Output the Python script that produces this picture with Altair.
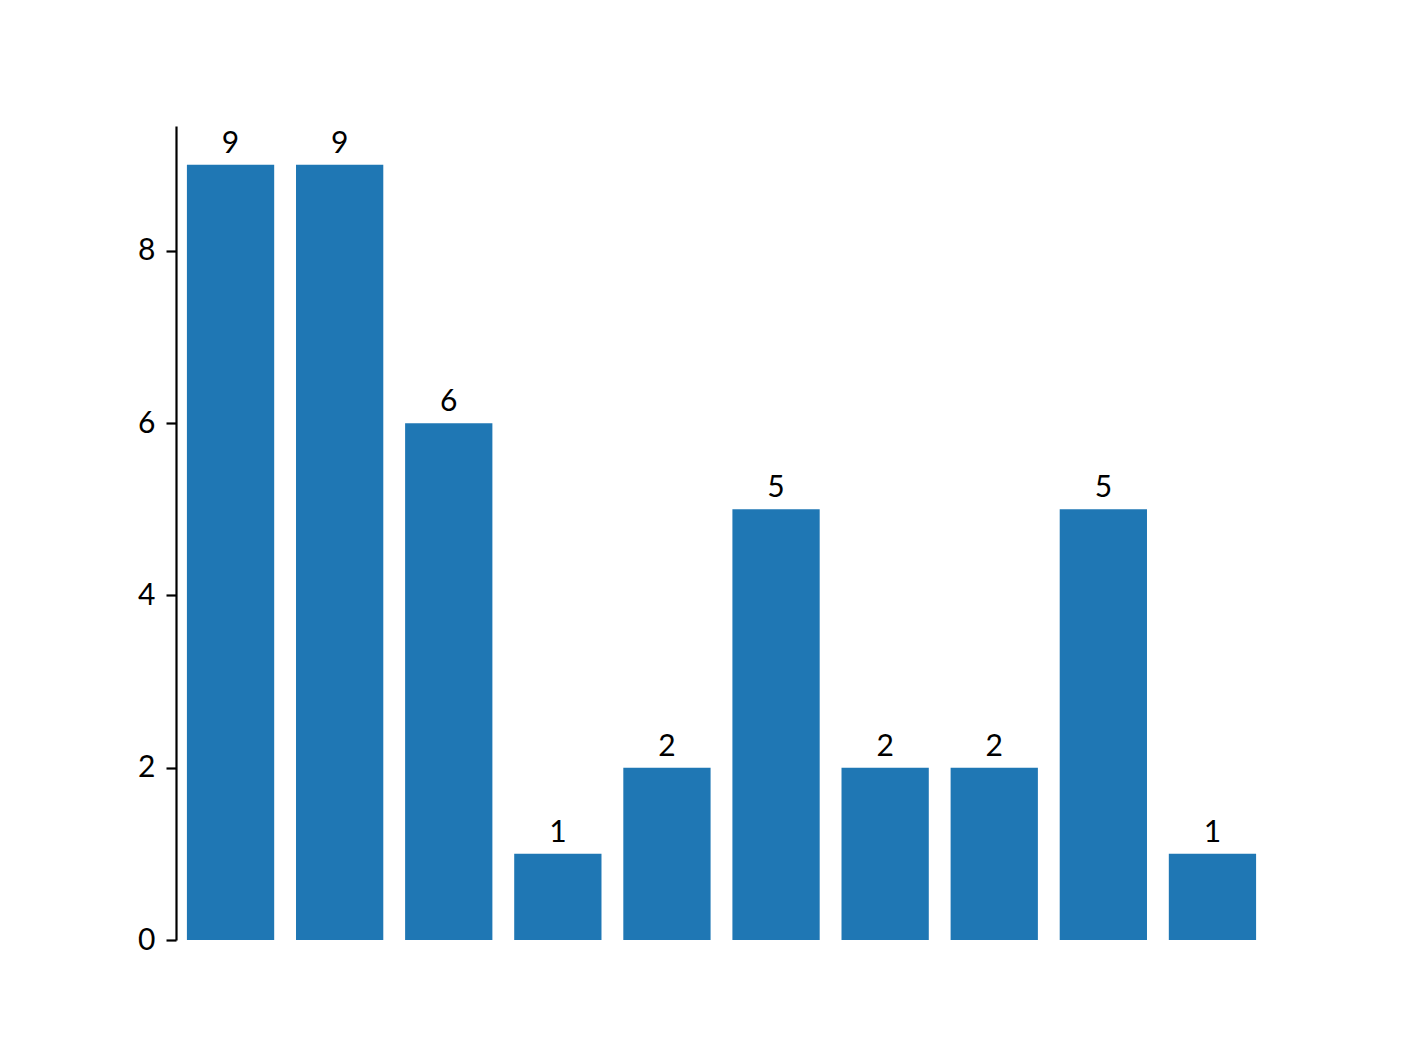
import altair as alt
import pandas as pd

categories = ["A", "B", "C", "D", "E", "F", "G", "H", "I", "J"]
values = [9, 9, 6, 1, 2, 5, 2, 2, 5, 1]
y_ticks = [0, 2, 4, 6, 8]

df = pd.DataFrame({"cat": categories, "val": values})

FONT = "Lato"
FS = 30
x_enc = alt.X("cat:N", sort=None, axis=None,
              scale=alt.Scale(paddingInner=0.2, paddingOuter=0.1))
y_enc = alt.Y("val:Q", title=None,
              scale=alt.Scale(domain=[0, 9.45], nice=False, zero=True),
              axis=alt.Axis(values=y_ticks, grid=False, domainColor="black",
                            domainWidth=2.2, tickColor="black", tickWidth=2.2,
                            tickSize=10, labelPadding=11, labelFontSize=FS,
                            labelFont=FONT, labelColor="black", format="d"))

bars = alt.Chart(df).mark_bar(color="#1f77b4").encode(x=x_enc, y=y_enc)
labels = alt.Chart(df).mark_text(
    baseline="alphabetic", dy=-12, fontSize=FS, font=FONT, color="black"
).encode(x=x_enc, y=y_enc, text=alt.Text("val:Q", format="d"))

chart = (bars + labels).properties(
    width=1091, height=814,
    background="white",
    autosize=alt.AutoSizeParams(type="none"),
    padding={"left": 168, "top": 118, "right": 100, "bottom": 80},
).configure_view(stroke=None, strokeWidth=0)

chart.save("out.html", embed_options={"renderer": "svg", "actions": False})
